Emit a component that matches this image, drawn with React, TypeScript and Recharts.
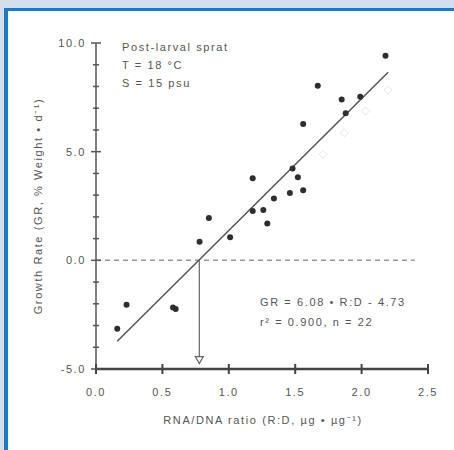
import React from 'react';
import { ScatterChart, Scatter, XAxis, YAxis, ReferenceLine } from 'recharts';

// RNA/DNA ratio vs growth rate
const rnaDna = [0.16, 0.23, 0.58, 0.6, 0.78, 0.85, 1.01, 1.18, 1.18, 1.26, 1.29, 1.34, 1.46, 1.48, 1.52, 1.56, 1.56, 1.67, 1.85, 1.88, 1.99, 2.18];
const growth = [-3.15, -2.04, -2.17, -2.24, 0.86, 1.95, 1.06, 3.78, 2.27, 2.32, 1.70, 2.85, 3.10, 4.23, 3.82, 3.23, 6.27, 8.03, 7.40, 6.77, 7.53, 9.41];

// faint open diamonds in the background
const ghostX = [1.71, 1.87, 2.03, 2.2];
const ghostY = [4.88, 5.87, 6.87, 7.83];

const fitLine = [{ x: 0.16, y: -3.72 }, { x: 2.2, y: 8.65 }];
const zeroLine = [{ x: 0, y: 0 }, { x: 2.4, y: 0 }];
const interceptX = 0.778;
const arrowEnd = -4.75;

const xTicks = [0, 0.5, 1, 1.5, 2, 2.5];
const yTicks = [-5, -4, -3, -2, -1, 0, 1, 2, 3, 4, 5, 6, 7, 8, 9, 10];
const yLabelled = [-5, 0, 5, 10];

const points = rnaDna.map((x, i) => ({ x, y: growth[i] }));
const ghosts = ghostX.map((x, i) => ({ x, y: ghostY[i] }));
const arrowHead = [{ x: interceptX, y: arrowEnd }];

const FONT = '"Liberation Sans", Arial, sans-serif';
const TXT = '#555';

const YTick = (props: any) => {
  const { x, y, payload } = props;
  const major = yLabelled.includes(payload.value);
  const len = major ? 5 : 3;
  return (
    <g>
      <line x1={x - len} x2={x + len} y1={y} y2={y} stroke="#555" strokeWidth={1.5} />
      {major && (
        <text x={x - 10} y={y + 4} textAnchor="end" fontSize={11} fill={TXT} fontFamily={FONT} letterSpacing={1.6}>
          {payload.value.toFixed(1)}
        </text>
      )}
    </g>
  );
};

const XTick = (props: any) => {
  const { x, y, payload } = props;
  return (
    <g>
      <line x1={x} x2={x} y1={y - 5} y2={y + 5} stroke="#444" strokeWidth={2} />
      <text x={x} y={y + 27} textAnchor="middle" fontSize={11} fill={TXT} fontFamily={FONT} letterSpacing={1.6}>
        {payload.value.toFixed(1)}
      </text>
    </g>
  );
};

const Dot = (props: any) => <circle cx={props.cx} cy={props.cy} r={3} fill="#2e2e2e" />;

const Diamond = (props: any) => {
  const { cx, cy } = props;
  return <path d={`M${cx},${cy - 4}L${cx + 4},${cy}L${cx},${cy + 4}L${cx - 4},${cy}Z`} fill="none" stroke="#e4e4e4" strokeWidth={1} />;
};

const Arrow = (props: any) => {
  const { cx, cy } = props;
  return <path d={`M${cx - 4},${cy - 7}L${cx + 4},${cy - 7}L${cx},${cy}Z`} fill="#fff" stroke="#666" strokeWidth={1.2} />;
};

const textStyle: React.CSSProperties = {
  position: 'absolute',
  fontFamily: FONT,
  fontSize: 11,
  color: TXT,
  letterSpacing: 1.6,
  whiteSpace: 'nowrap',
  lineHeight: '18px',
};

export default function App() {
  return (
    <div style={{ position: 'fixed', left: 0, top: 0, width: 454, height: 450, overflow: 'hidden', background: '#d3deee' }}>
      <div style={{ position: 'absolute', left: 4, top: 8, width: 470, height: 470, background: '#fff', borderLeft: '4px solid #1b79c8', borderTop: '3px solid #1b79c8' }} />
      <div style={{ position: 'absolute', left: 0, top: 0 }}>
        <ScatterChart width={454} height={450} margin={{ top: 43, right: 26, bottom: 51, left: 56 }}>
          <XAxis
            type="number"
            dataKey="x"
            domain={[0, 2.5]}
            ticks={xTicks}
            interval={0}
            height={30}
            tickSize={0}
            tickMargin={0}
            tickLine={false}
            axisLine={{ stroke: '#444', strokeWidth: 2.5 }}
            tick={<XTick />}
          />
          <YAxis
            type="number"
            dataKey="y"
            domain={[-5, 10]}
            ticks={yTicks}
            interval={0}
            width={40}
            tickSize={0}
            tickMargin={0}
            tickLine={false}
            axisLine={{ stroke: '#555', strokeWidth: 1.5 }}
            tick={<YTick />}
          />
          <ReferenceLine segment={zeroLine} stroke="#9a9a9a" strokeWidth={1.5} strokeDasharray="5 4" />
          <ReferenceLine segment={[{ x: interceptX, y: 0 }, { x: interceptX, y: arrowEnd }]} stroke="#666" strokeWidth={1.2} />
          <ReferenceLine segment={fitLine} stroke="#555" strokeWidth={1.5} />
          <Scatter data={ghosts} shape={<Diamond />} isAnimationActive={false} />
          <Scatter data={points} shape={<Dot />} isAnimationActive={false} />
          <Scatter data={arrowHead} shape={<Arrow />} isAnimationActive={false} />
        </ScatterChart>
      </div>
      <div style={{ ...textStyle, left: 122, top: 38 }}>
        Post-larval sprat<br />T = 18 °C<br />S = 15 psu
      </div>
      <div style={{ ...textStyle, left: 260, top: 292, lineHeight: '20px' }}>
        GR = 6.08 • R:D - 4.73<br />r² = 0.900, n = 22
      </div>
      <div style={{ ...textStyle, left: 0, width: 526, top: 411, textAlign: 'center' }}>
        RNA/DNA ratio (R:D, µg • µg⁻¹)
      </div>
      <div
        style={{
          ...textStyle,
          left: 38,
          top: 206,
          transform: 'translate(-50%, -50%) rotate(-90deg)',
        }}
      >
        Growth Rate (GR, % Weight • d⁻¹)
      </div>
    </div>
  );
}
